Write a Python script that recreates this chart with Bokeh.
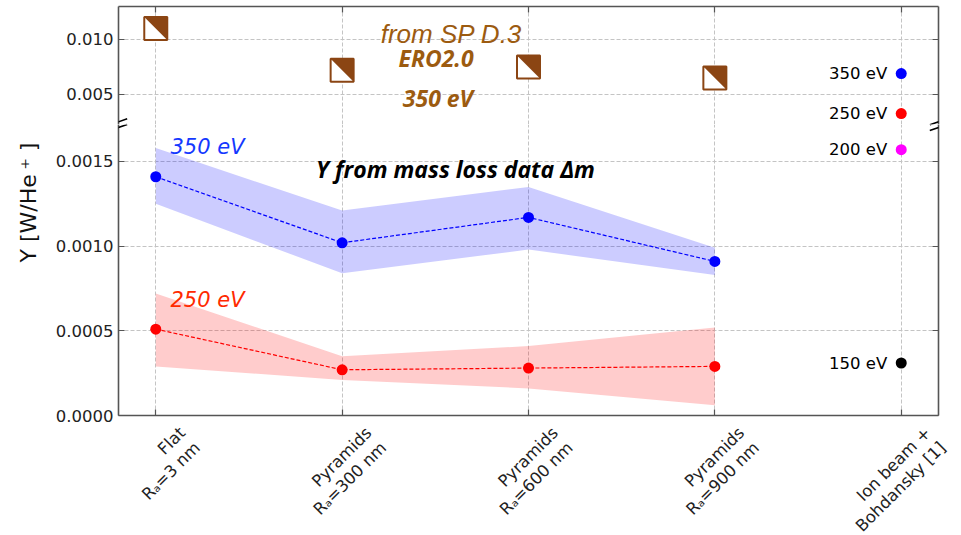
import math
from bokeh.plotting import figure
from bokeh.layouts import column
from bokeh.models import (Range1d, FixedTicker, LinearAxis, Label, Arrow, Grid, Title,
                          PrintfTickFormatter, ColumnDataSource)
from bokeh.core.properties import value
from bokeh.embed import file_html
from bokeh.resources import INLINE

# ---------------- data ----------------
categories = ["Flat\nRₐ=3 nm", "Pyramids\nRₐ=300 nm", "Pyramids\nRₐ=600 nm",
              "Pyramids\nRₐ=900 nm", "Ion beam +\nBohdansky [1]"]
x_pos = [0, 1, 2, 3, 4]
x_samples = [0, 1, 2, 3]

y350 = [0.00141, 0.00102, 0.00117, 0.00091]
y350_lo = [0.00125, 0.00084, 0.00098, 0.00083]
y350_hi = [0.00158, 0.00121, 0.00135, 0.00099]

y250 = [0.00051, 0.00027, 0.00028, 0.00029]
y250_lo = [0.00029, 0.00021, 0.00016, 0.00006]
y250_hi = [0.00072, 0.00035, 0.00041, 0.00052]

ero_y = [0.0110, 0.0072, 0.0075, 0.0065]

ion_labels = ["350 eV", "250 eV", "200 eV", "150 eV"]
ion_y = [0.0069, 0.00327, 0.00157, 0.00031]
ion_colors = ["#0000ff", "#ff0000", "#ff00ff", "#000000"]

ticks_top = [0.005, 0.010]
ticks_bot = [0.0, 0.0005, 0.0010, 0.0015]

# ---------------- geometry / style ----------------
W_L, W_R = 118, 23
FRAME_W = 820
TOP_BORDER, TOP_H = 6, 118
BOT_H, BOT_BORDER = 291, 120
X_RANGE = (-0.2, 4.2)
TOP_RANGE = (0.0022727, 0.0130)
BOT_RANGE = (0.0, 0.0017185)
LABEL_SHIFT_PX = 34

SPINE = "#555555"
GRID = "#c4c4c4"
BROWN = "#8B4513"
BROWN_TXT = "#9c5b10"
FONT = "DejaVu Sans"

px_x = FRAME_W / (X_RANGE[1] - X_RANGE[0])
px_top = TOP_H / (TOP_RANGE[1] - TOP_RANGE[0])
px_bot = BOT_H / (BOT_RANGE[1] - BOT_RANGE[0])


def bx(px):  # page pixel -> x data
    return X_RANGE[0] + (px - W_L) / px_x


def ty(py):  # page pixel -> y data (top panel)
    return TOP_RANGE[1] - (py - TOP_BORDER) / px_top


def by(py):  # page pixel -> y data (bottom panel)
    return BOT_RANGE[0] + (TOP_BORDER + TOP_H + BOT_H - py) / px_bot


def make_fig(frame_h, yr, bt, bb):
    p = figure(frame_width=FRAME_W, frame_height=frame_h,
               x_range=Range1d(*X_RANGE), y_range=Range1d(*yr),
               output_backend="svg", toolbar_location=None,
               x_axis_type=None, y_axis_type=None,
               min_border_left=W_L, min_border_right=W_R,
               min_border_top=bt, min_border_bottom=bb)
    p.outline_line_color = None
    p.background_fill_color = "white"
    p.border_fill_color = "white"
    return p


def style_axis(ax, show_labels, ticks=None):
    ax.major_tick_in = 6
    ax.major_tick_out = 0
    ax.minor_tick_line_color = None
    ax.axis_line_color = SPINE
    ax.axis_line_width = 1.6
    ax.major_tick_line_color = SPINE
    ax.major_tick_line_width = 1.2
    if show_labels:
        ax.major_label_text_font = FONT
        ax.major_label_text_font_size = "16.5px"
        ax.major_label_text_color = "#222222"
        ax.major_label_standoff = 5
    else:
        # spine-only axis: no tick labels drawn
        ax.major_label_overrides = {t: "" for t in ticks}
        ax.major_label_text_font_size = "0px"
        ax.major_label_text_color = None
        ax.major_label_standoff = 0


def add_grid(p, yticks):
    p.add_layout(Grid(dimension=0, ticker=FixedTicker(ticks=x_pos),
                      grid_line_color=GRID, grid_line_dash="4 2", grid_line_width=1))
    p.add_layout(Grid(dimension=1, ticker=FixedTicker(ticks=yticks),
                      grid_line_color=GRID, grid_line_dash="4 2", grid_line_width=1))


def add_break_marks(p, yconv):
    for off in (0, FRAME_W):
        for (x0, y0, x1, y1) in [(109.3, 124.3, 126.7, 118.3), (109.3, 130.0, 126.7, 124.0)]:
            p.add_layout(Arrow(x_start=bx(x0 + off), y_start=yconv(y0),
                               x_end=bx(x1 + off), y_end=yconv(y1),
                               start=None, end=None, line_color="black", line_width=1.6))


# ---------------- top panel ----------------
pt = make_fig(TOP_H, TOP_RANGE, TOP_BORDER, 0)
add_grid(pt, ticks_top)
ax = LinearAxis(ticker=FixedTicker(ticks=ticks_top), formatter=PrintfTickFormatter(format="%.3f"))
style_axis(ax, True)
pt.add_layout(ax, "left")
ax = LinearAxis(ticker=FixedTicker(ticks=ticks_top))
style_axis(ax, False, ticks_top)
pt.add_layout(ax, "right")
ax = LinearAxis(ticker=FixedTicker(ticks=x_pos))
style_axis(ax, False, x_pos)
pt.add_layout(ax, "above")

# ERO2.0 half-filled squares
half_w = 11.5 / px_x
half_h = 11.5 / px_top
pt.scatter(x_samples, ero_y, marker="square", size=23, fill_color="white",
           line_color=BROWN, line_width=2)
tri_xs = [[x - half_w, x + half_w, x + half_w] for x in x_samples]
tri_ys = [[y + half_h, y + half_h, y - half_h] for y in ero_y]
pt.patches(tri_xs, tri_ys, fill_color=BROWN, line_color=None)

for txt, cx, base, font, size, style in [
    ("from SP D.3", 451, 33.3, "Liberation Sans", "26px", "italic"),
    ("ERO2.0", 435.5, 57, "Open Sans", "23px", "bold italic"),
    ("350 eV", 437.5, 97, "Open Sans", "23px", "bold italic"),
]:
    pt.add_layout(Label(x=bx(cx), y=ty(base), text=txt, text_align="center",
                        text_baseline="alphabetic", text_font=font, text_font_size=size,
                        text_font_style=style, text_color=BROWN_TXT))

# ---------------- bottom panel ----------------
pb = make_fig(BOT_H, BOT_RANGE, 0, BOT_BORDER)
pb.extra_x_ranges = {"labels": Range1d(X_RANGE[0] - LABEL_SHIFT_PX / px_x,
                                       X_RANGE[1] - LABEL_SHIFT_PX / px_x)}
add_grid(pb, ticks_bot)
ax = LinearAxis(ticker=FixedTicker(ticks=ticks_bot), formatter=PrintfTickFormatter(format="%.4f"))
style_axis(ax, True)
pb.add_layout(ax, "left")
ax = LinearAxis(ticker=FixedTicker(ticks=ticks_bot))
style_axis(ax, False, ticks_bot)
pb.add_layout(ax, "right")
ax = LinearAxis(ticker=FixedTicker(ticks=x_pos))
style_axis(ax, False, x_pos)
pb.add_layout(ax, "below")

# category tick labels (own axis on a shifted copy of the x scale, like centred rotated labels)
lab_ax = LinearAxis(x_range_name="labels", ticker=FixedTicker(ticks=x_pos),
                    major_label_overrides={i: c for i, c in zip(x_pos, categories)})
lab_ax.axis_line_color = None
lab_ax.major_tick_line_color = None
lab_ax.minor_tick_line_color = None
lab_ax.major_tick_in = 0
lab_ax.major_tick_out = 0
lab_ax.major_label_orientation = math.pi / 4
lab_ax.major_label_standoff = 22
lab_ax.major_label_text_font = FONT
lab_ax.major_label_text_font_size = "16.5px"
lab_ax.major_label_text_color = "#222222"
lab_ax.major_label_text_line_height = 1.1
pb.add_layout(lab_ax, "below")

pb.varea(x=x_samples, y1=y350_lo, y2=y350_hi, fill_color="#0000ff", fill_alpha=0.2)
pb.varea(x=x_samples, y1=y250_lo, y2=y250_hi, fill_color="#ff0000", fill_alpha=0.2)
pb.line(x_samples, y350, line_color="#0000ff", line_dash="4 2", line_width=1.2)
pb.line(x_samples, y250, line_color="#ff0000", line_dash="4 2", line_width=1.2)
pb.scatter(x_samples, y350, size=11, fill_color="#0000ff", line_color=None)
pb.scatter(x_samples, y250, size=11, fill_color="#ff0000", line_color=None)

pb.add_layout(Label(x=bx(170), y=by(146), text="350 eV", text_baseline="alphabetic",
                    text_font=FONT, text_font_size="21px", text_font_style="italic",
                    text_color="#1438ff"))
pb.add_layout(Label(x=bx(170), y=by(299.5), text="250 eV", text_baseline="alphabetic",
                    text_font=FONT, text_font_size="21px", text_font_style="italic",
                    text_color="#ff2a00"))
pb.add_layout(Label(x=bx(455), y=by(168), text="Y from mass loss data Δm",
                    text_align="center", text_baseline="alphabetic",
                    text_font="Open Sans", text_font_size="23px", text_font_style="bold italic",
                    text_color="black"))

# y-axis title spanning the break (placed on the lower panel, shifted up)
pb.add_layout(Title(text="Y [W/He\u2009⁺ ]", align="left", offset=153, standoff=23,
                    text_font=FONT, text_font_size="22px", text_font_style="normal",
                    text_color="#111111"), "left")

# ---------------- ion beam reference points ----------------
split = BOT_RANGE[1]
for p, sel in ((pt, lambda v: v >= split), (pb, lambda v: v < split)):
    ys = [v for v in ion_y if sel(v)]
    cs = [c for v, c in zip(ion_y, ion_colors) if sel(v)]
    ls = [l for v, l in zip(ion_y, ion_labels) if sel(v)]
    src = ColumnDataSource(dict(x=[4] * len(ys), y=ys, c=cs, t=ls))
    p.scatter("x", "y", source=src, size=11, fill_color="c", line_color=None)
    p.text("x", "y", text="t", source=src, x_offset=-14, text_align="right",
           text_baseline="alphabetic", text_font=value(FONT),
           text_font_size=value("16.5px"), text_color="black")

add_break_marks(pt, ty)
add_break_marks(pb, by)

layout = column(pt, pb, spacing=0)
open("out.html", "w").write(file_html(layout, INLINE))
